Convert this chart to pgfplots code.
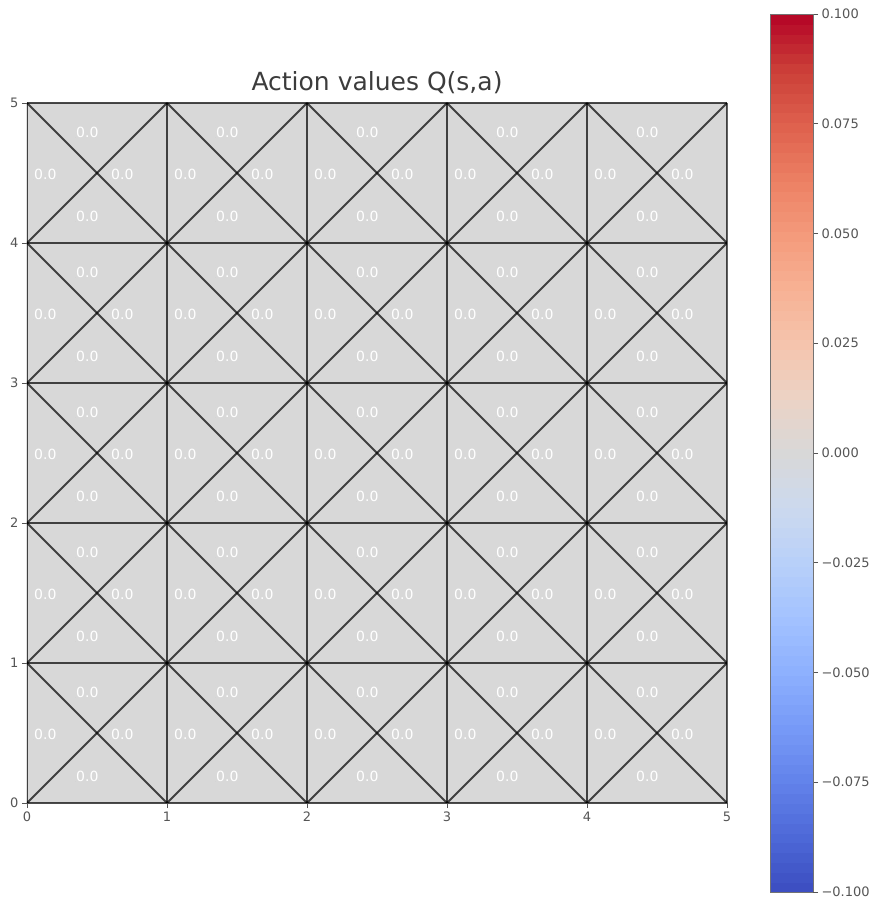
\documentclass[border=0pt]{standalone}
\usepackage{fontspec}
\setmainfont{DejaVu Sans}
\usepackage{pgfplots}
\pgfplotsset{compat=1.18}
\definecolor{tickgray}{RGB}{85,85,85}
\definecolor{titlegray}{RGB}{60,60,60}
\pgfplotsset{
  edge/.style={black, opacity=0.7, line width=1.8pt, forget plot},
}
\begin{document}
\begin{tikzpicture}
\begin{axis}[
  name=main,
  scale only axis, width=700pt, height=700pt,
  xmin=0, xmax=5, ymin=0, ymax=5,
  xtick={0,1,2,3,4,5}, ytick={0,1,2,3,4,5},
  xtick pos=bottom, ytick pos=left, tick align=outside, major tick length=5pt,
  tick style={tickgray, line width=0.8pt},
  ticklabel style={font=\fontsize{13}{15}\selectfont, text=tickgray},
  /pgf/number format/assume math mode=true,
  axis line style={black!70, line width=0.8pt},
  title={Action values Q(s,a)},
  title style={font=\fontsize{25}{28}\selectfont, text=titlegray, anchor=base, at={(0.5,1)}, yshift=6pt},
  colormap={coolwarm}{
    rgb255=(59,76,192) rgb255=(77,104,215) rgb255=(98,130,234) rgb255=(119,154,247)
    rgb255=(141,176,254) rgb255=(163,194,255) rgb255=(184,208,249) rgb255=(204,217,238)
    rgb255=(216,216,216) rgb255=(236,211,197) rgb255=(245,196,173) rgb255=(247,177,148)
    rgb255=(244,154,123) rgb255=(236,127,99) rgb255=(222,96,77) rgb255=(203,62,56)
    rgb255=(180,4,38)},
  point meta min=-0.1, point meta max=0.1,
  colorbar sampled,
  colorbar style={
    samples=90,
    scale only axis, width=43pt, height=878pt,
    at={(parent axis.north east)}, anchor=north west, xshift=34.5pt, yshift=89pt,
    xtick=\empty,
    ytick={-0.1,-0.075,-0.05,-0.025,0,0.025,0.05,0.075,0.1},
    yticklabels={−0.100,−0.075,−0.050,−0.025,0.000,0.025,0.050,0.075,0.100},
    ytick pos=right, yticklabel pos=right,
    yticklabel style={font=\fontsize{13}{15}\selectfont, text=tickgray},
    tick align=outside, major tick length=5pt,
    tick style={tickgray, line width=0.8pt},
    axis line style={black!55, line width=0.6pt},
  },
]
% Q-value triangles (top, bottom, left, right of each state), all 0.0
\addplot[patch, patch type=triangle, shader=flat, point meta=explicit] coordinates {
(0,1)[0] (1,1)[0] (0.5,0.5)[0] (0,0)[0] (1,0)[0] (0.5,0.5)[0] (0,0)[0] (0,1)[0] (0.5,0.5)[0] (1,0)[0] (1,1)[0] (0.5,0.5)[0]
(1,1)[0] (2,1)[0] (1.5,0.5)[0] (1,0)[0] (2,0)[0] (1.5,0.5)[0] (1,0)[0] (1,1)[0] (1.5,0.5)[0] (2,0)[0] (2,1)[0] (1.5,0.5)[0]
(2,1)[0] (3,1)[0] (2.5,0.5)[0] (2,0)[0] (3,0)[0] (2.5,0.5)[0] (2,0)[0] (2,1)[0] (2.5,0.5)[0] (3,0)[0] (3,1)[0] (2.5,0.5)[0]
(3,1)[0] (4,1)[0] (3.5,0.5)[0] (3,0)[0] (4,0)[0] (3.5,0.5)[0] (3,0)[0] (3,1)[0] (3.5,0.5)[0] (4,0)[0] (4,1)[0] (3.5,0.5)[0]
(4,1)[0] (5,1)[0] (4.5,0.5)[0] (4,0)[0] (5,0)[0] (4.5,0.5)[0] (4,0)[0] (4,1)[0] (4.5,0.5)[0] (5,0)[0] (5,1)[0] (4.5,0.5)[0]
(0,2)[0] (1,2)[0] (0.5,1.5)[0] (0,1)[0] (1,1)[0] (0.5,1.5)[0] (0,1)[0] (0,2)[0] (0.5,1.5)[0] (1,1)[0] (1,2)[0] (0.5,1.5)[0]
(1,2)[0] (2,2)[0] (1.5,1.5)[0] (1,1)[0] (2,1)[0] (1.5,1.5)[0] (1,1)[0] (1,2)[0] (1.5,1.5)[0] (2,1)[0] (2,2)[0] (1.5,1.5)[0]
(2,2)[0] (3,2)[0] (2.5,1.5)[0] (2,1)[0] (3,1)[0] (2.5,1.5)[0] (2,1)[0] (2,2)[0] (2.5,1.5)[0] (3,1)[0] (3,2)[0] (2.5,1.5)[0]
(3,2)[0] (4,2)[0] (3.5,1.5)[0] (3,1)[0] (4,1)[0] (3.5,1.5)[0] (3,1)[0] (3,2)[0] (3.5,1.5)[0] (4,1)[0] (4,2)[0] (3.5,1.5)[0]
(4,2)[0] (5,2)[0] (4.5,1.5)[0] (4,1)[0] (5,1)[0] (4.5,1.5)[0] (4,1)[0] (4,2)[0] (4.5,1.5)[0] (5,1)[0] (5,2)[0] (4.5,1.5)[0]
(0,3)[0] (1,3)[0] (0.5,2.5)[0] (0,2)[0] (1,2)[0] (0.5,2.5)[0] (0,2)[0] (0,3)[0] (0.5,2.5)[0] (1,2)[0] (1,3)[0] (0.5,2.5)[0]
(1,3)[0] (2,3)[0] (1.5,2.5)[0] (1,2)[0] (2,2)[0] (1.5,2.5)[0] (1,2)[0] (1,3)[0] (1.5,2.5)[0] (2,2)[0] (2,3)[0] (1.5,2.5)[0]
(2,3)[0] (3,3)[0] (2.5,2.5)[0] (2,2)[0] (3,2)[0] (2.5,2.5)[0] (2,2)[0] (2,3)[0] (2.5,2.5)[0] (3,2)[0] (3,3)[0] (2.5,2.5)[0]
(3,3)[0] (4,3)[0] (3.5,2.5)[0] (3,2)[0] (4,2)[0] (3.5,2.5)[0] (3,2)[0] (3,3)[0] (3.5,2.5)[0] (4,2)[0] (4,3)[0] (3.5,2.5)[0]
(4,3)[0] (5,3)[0] (4.5,2.5)[0] (4,2)[0] (5,2)[0] (4.5,2.5)[0] (4,2)[0] (4,3)[0] (4.5,2.5)[0] (5,2)[0] (5,3)[0] (4.5,2.5)[0]
(0,4)[0] (1,4)[0] (0.5,3.5)[0] (0,3)[0] (1,3)[0] (0.5,3.5)[0] (0,3)[0] (0,4)[0] (0.5,3.5)[0] (1,3)[0] (1,4)[0] (0.5,3.5)[0]
(1,4)[0] (2,4)[0] (1.5,3.5)[0] (1,3)[0] (2,3)[0] (1.5,3.5)[0] (1,3)[0] (1,4)[0] (1.5,3.5)[0] (2,3)[0] (2,4)[0] (1.5,3.5)[0]
(2,4)[0] (3,4)[0] (2.5,3.5)[0] (2,3)[0] (3,3)[0] (2.5,3.5)[0] (2,3)[0] (2,4)[0] (2.5,3.5)[0] (3,3)[0] (3,4)[0] (2.5,3.5)[0]
(3,4)[0] (4,4)[0] (3.5,3.5)[0] (3,3)[0] (4,3)[0] (3.5,3.5)[0] (3,3)[0] (3,4)[0] (3.5,3.5)[0] (4,3)[0] (4,4)[0] (3.5,3.5)[0]
(4,4)[0] (5,4)[0] (4.5,3.5)[0] (4,3)[0] (5,3)[0] (4.5,3.5)[0] (4,3)[0] (4,4)[0] (4.5,3.5)[0] (5,3)[0] (5,4)[0] (4.5,3.5)[0]
(0,5)[0] (1,5)[0] (0.5,4.5)[0] (0,4)[0] (1,4)[0] (0.5,4.5)[0] (0,4)[0] (0,5)[0] (0.5,4.5)[0] (1,4)[0] (1,5)[0] (0.5,4.5)[0]
(1,5)[0] (2,5)[0] (1.5,4.5)[0] (1,4)[0] (2,4)[0] (1.5,4.5)[0] (1,4)[0] (1,5)[0] (1.5,4.5)[0] (2,4)[0] (2,5)[0] (1.5,4.5)[0]
(2,5)[0] (3,5)[0] (2.5,4.5)[0] (2,4)[0] (3,4)[0] (2.5,4.5)[0] (2,4)[0] (2,5)[0] (2.5,4.5)[0] (3,4)[0] (3,5)[0] (2.5,4.5)[0]
(3,5)[0] (4,5)[0] (3.5,4.5)[0] (3,4)[0] (4,4)[0] (3.5,4.5)[0] (3,4)[0] (3,5)[0] (3.5,4.5)[0] (4,4)[0] (4,5)[0] (3.5,4.5)[0]
(4,5)[0] (5,5)[0] (4.5,4.5)[0] (4,4)[0] (5,4)[0] (4.5,4.5)[0] (4,4)[0] (4,5)[0] (4.5,4.5)[0] (5,4)[0] (5,5)[0] (4.5,4.5)[0]
};
% grid edges
\addplot[edge] coordinates {(0,0) (0,5)};
\addplot[edge] coordinates {(1,0) (1,5)};
\addplot[edge] coordinates {(2,0) (2,5)};
\addplot[edge] coordinates {(3,0) (3,5)};
\addplot[edge] coordinates {(4,0) (4,5)};
\addplot[edge] coordinates {(5,0) (5,5)};
\addplot[edge] coordinates {(0,0) (5,0)};
\addplot[edge] coordinates {(0,1) (5,1)};
\addplot[edge] coordinates {(0,2) (5,2)};
\addplot[edge] coordinates {(0,3) (5,3)};
\addplot[edge] coordinates {(0,4) (5,4)};
\addplot[edge] coordinates {(0,5) (5,5)};
% diagonals
\addplot[edge] coordinates {(0,1) (1,0)};
\addplot[edge] coordinates {(0,2) (2,0)};
\addplot[edge] coordinates {(0,3) (3,0)};
\addplot[edge] coordinates {(0,4) (4,0)};
\addplot[edge] coordinates {(0,5) (5,0)};
\addplot[edge] coordinates {(1,5) (5,1)};
\addplot[edge] coordinates {(2,5) (5,2)};
\addplot[edge] coordinates {(3,5) (5,3)};
\addplot[edge] coordinates {(4,5) (5,4)};
\addplot[edge] coordinates {(4,0) (5,1)};
\addplot[edge] coordinates {(3,0) (5,2)};
\addplot[edge] coordinates {(2,0) (5,3)};
\addplot[edge] coordinates {(1,0) (5,4)};
\addplot[edge] coordinates {(0,0) (5,5)};
\addplot[edge] coordinates {(0,1) (4,5)};
\addplot[edge] coordinates {(0,2) (3,5)};
\addplot[edge] coordinates {(0,3) (2,5)};
\addplot[edge] coordinates {(0,4) (1,5)};
% value labels
\addplot[only marks, mark=*, mark size=0pt, mark options={draw=none, fill=none},
  point meta=explicit symbolic, nodes near coords,
  nodes near coords style={anchor=base west, inner sep=0pt, font=\fontsize{14}{16}\selectfont, text=white}]
coordinates {
(0.05,0.45)[0.0] (0.6,0.45)[0.0] (0.35,0.75)[0.0] (0.35,0.15)[0.0]
(1.05,0.45)[0.0] (1.6,0.45)[0.0] (1.35,0.75)[0.0] (1.35,0.15)[0.0]
(2.05,0.45)[0.0] (2.6,0.45)[0.0] (2.35,0.75)[0.0] (2.35,0.15)[0.0]
(3.05,0.45)[0.0] (3.6,0.45)[0.0] (3.35,0.75)[0.0] (3.35,0.15)[0.0]
(4.05,0.45)[0.0] (4.6,0.45)[0.0] (4.35,0.75)[0.0] (4.35,0.15)[0.0]
(0.05,1.45)[0.0] (0.6,1.45)[0.0] (0.35,1.75)[0.0] (0.35,1.15)[0.0]
(1.05,1.45)[0.0] (1.6,1.45)[0.0] (1.35,1.75)[0.0] (1.35,1.15)[0.0]
(2.05,1.45)[0.0] (2.6,1.45)[0.0] (2.35,1.75)[0.0] (2.35,1.15)[0.0]
(3.05,1.45)[0.0] (3.6,1.45)[0.0] (3.35,1.75)[0.0] (3.35,1.15)[0.0]
(4.05,1.45)[0.0] (4.6,1.45)[0.0] (4.35,1.75)[0.0] (4.35,1.15)[0.0]
(0.05,2.45)[0.0] (0.6,2.45)[0.0] (0.35,2.75)[0.0] (0.35,2.15)[0.0]
(1.05,2.45)[0.0] (1.6,2.45)[0.0] (1.35,2.75)[0.0] (1.35,2.15)[0.0]
(2.05,2.45)[0.0] (2.6,2.45)[0.0] (2.35,2.75)[0.0] (2.35,2.15)[0.0]
(3.05,2.45)[0.0] (3.6,2.45)[0.0] (3.35,2.75)[0.0] (3.35,2.15)[0.0]
(4.05,2.45)[0.0] (4.6,2.45)[0.0] (4.35,2.75)[0.0] (4.35,2.15)[0.0]
(0.05,3.45)[0.0] (0.6,3.45)[0.0] (0.35,3.75)[0.0] (0.35,3.15)[0.0]
(1.05,3.45)[0.0] (1.6,3.45)[0.0] (1.35,3.75)[0.0] (1.35,3.15)[0.0]
(2.05,3.45)[0.0] (2.6,3.45)[0.0] (2.35,3.75)[0.0] (2.35,3.15)[0.0]
(3.05,3.45)[0.0] (3.6,3.45)[0.0] (3.35,3.75)[0.0] (3.35,3.15)[0.0]
(4.05,3.45)[0.0] (4.6,3.45)[0.0] (4.35,3.75)[0.0] (4.35,3.15)[0.0]
(0.05,4.45)[0.0] (0.6,4.45)[0.0] (0.35,4.75)[0.0] (0.35,4.15)[0.0]
(1.05,4.45)[0.0] (1.6,4.45)[0.0] (1.35,4.75)[0.0] (1.35,4.15)[0.0]
(2.05,4.45)[0.0] (2.6,4.45)[0.0] (2.35,4.75)[0.0] (2.35,4.15)[0.0]
(3.05,4.45)[0.0] (3.6,4.45)[0.0] (3.35,4.75)[0.0] (3.35,4.15)[0.0]
(4.05,4.45)[0.0] (4.6,4.45)[0.0] (4.35,4.75)[0.0] (4.35,4.15)[0.0]
};
\end{axis}
\pgfresetboundingbox
\path ([shift={(-27pt,-105pt)}]main.south west) rectangle ([shift={(851pt,803pt)}]main.south west);
\end{tikzpicture}
\end{document}
